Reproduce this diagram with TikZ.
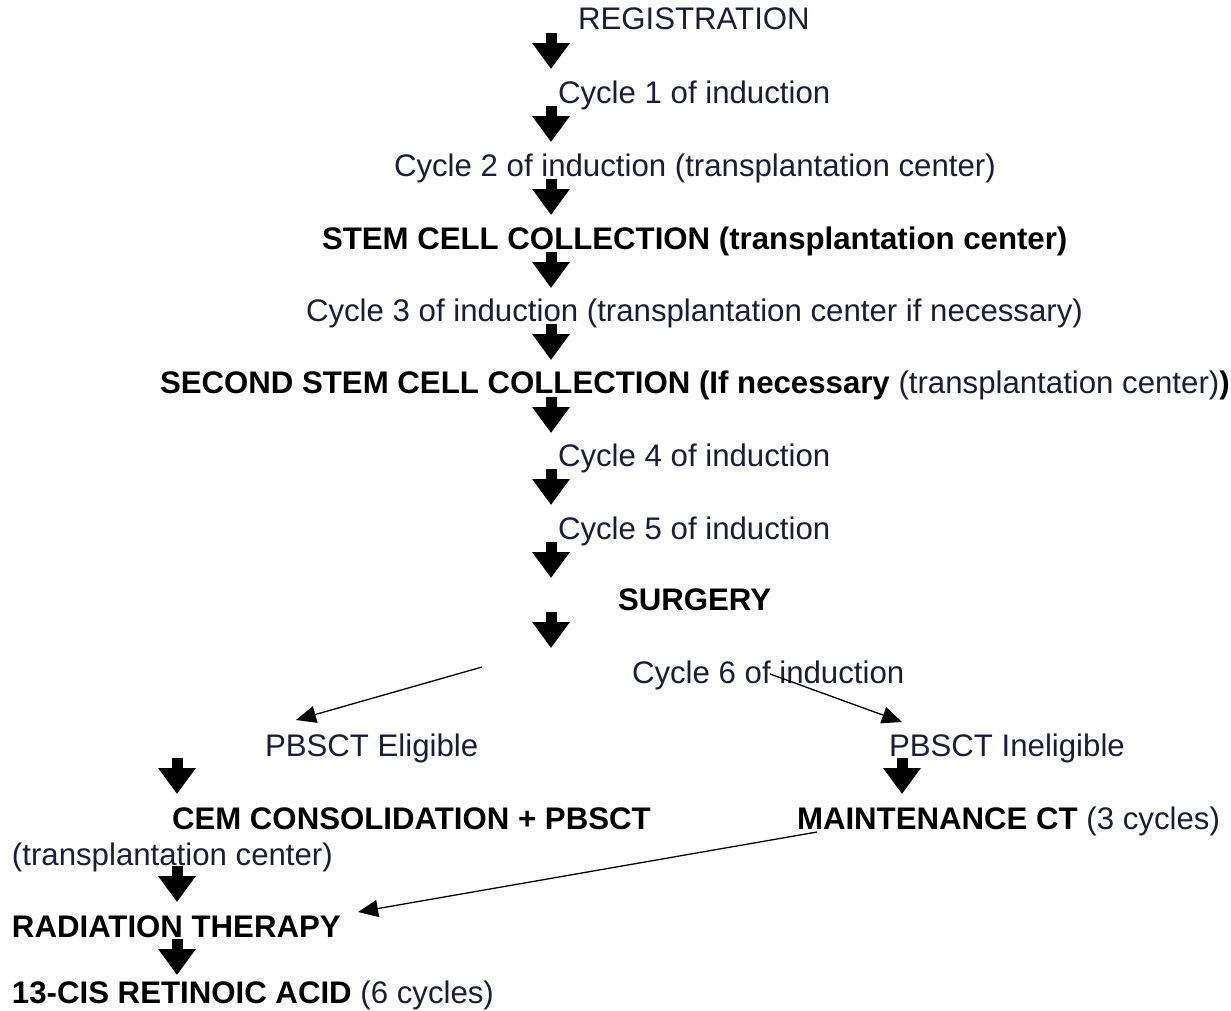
\documentclass[tikz,border=0pt]{standalone}
\usepackage{fontspec}
\setmainfont{Liberation Sans}
\usetikzlibrary{arrows.meta}
\definecolor{txt}{RGB}{28,28,55}
\begin{document}
\begin{tikzpicture}[x=1pt,y=-1pt,
  lbl/.style={anchor=base west,inner sep=0pt,outer sep=0pt,font=\fontsize{31.2}{37}\selectfont,text=txt},
  blbl/.style={lbl,font=\fontsize{31.2}{37}\selectfont\bfseries,text=black},
  blk/.style={line width=11pt,-{Triangle[length=26pt,width=36pt]}},
  thinarrow/.style={line width=1.3pt,-{Triangle[length=20pt,width=17pt]}}]
\useasboundingbox (0,0) rectangle (1231,1010);
% texts
\node[lbl]  (reg)  at (578,29)  {REGISTRATION};
\node[lbl]  (c1)   at (558,103) {Cycle 1 of induction};
\node[lbl]  (c2)   at (394,176) {Cycle 2 of induction (transplantation center)};
\node[blbl] (scc)  at (322,249) {STEM CELL COLLECTION (transplantation center)};
\node[lbl]  (c3)   at (306,321) {Cycle 3 of induction (transplantation center if necessary)};
\node[blbl] (scc2) at (160,393) {SECOND STEM CELL COLLECTION (If necessary {\mdseries\color{txt}(transplantation center)})};
\node[lbl]  (c4)   at (558,466) {Cycle 4 of induction};
\node[lbl]  (c5)   at (558,539) {Cycle 5 of induction};
\node[blbl] (surg) at (618,610) {SURGERY};
\node[lbl]  (c6)   at (632,683) {Cycle 6 of induction};
\node[lbl]  (elig) at (265,756) {PBSCT Eligible};
\node[lbl]  (inel) at (889,756) {PBSCT Ineligible};
\node[blbl] (cem)  at (172,829) {CEM CONSOLIDATION + PBSCT};
\node[blbl] (mnt)  at (797,829) {MAINTENANCE CT {\mdseries\color{txt}(3 cycles)}};
\node[lbl]  (tc)   at (12,865)  {(transplantation center)};
\node[blbl] (rad)  at (12,937)  {RADIATION THERAPY};
\node[blbl] (cis)  at (12,1003) {13-CIS RETINOIC ACID {\mdseries\color{txt}(6 cycles)}};
% block arrows
\foreach \i/\x/\y in {1/551/33,2/551/106,3/551/179,4/551/252,5/551/324,6/551/397,7/551/469,8/551/542,9/551/612,10/177/758,11/902/758,12/177/866,13/177/939}{
  \draw[blk] (\x,\y) coordinate (bs\i) -- ++(0,36) coordinate (be\i);
}
% thin arrows
\coordinate (ls) at (482,667);
\coordinate (le) at (296,720);
\coordinate (rs) at (770,674);
\coordinate (re) at (902,722);
\coordinate (ms) at (817,832);
\coordinate (me) at (358,912);
\draw[thinarrow] (ls) -- (le);
\draw[thinarrow] (rs) -- (re);
\draw[thinarrow] (ms) -- (me);
\end{tikzpicture}
\end{document}
